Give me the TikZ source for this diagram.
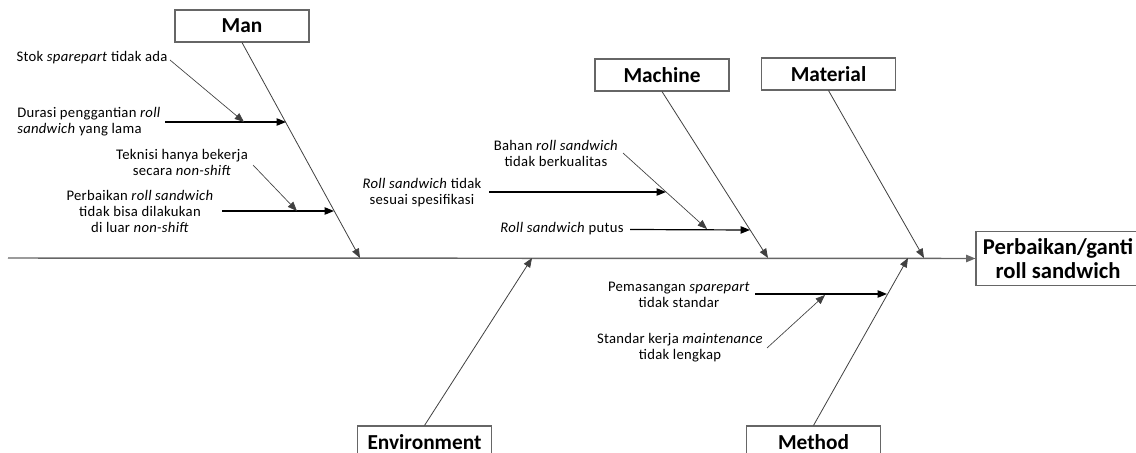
\documentclass[tikz,border=0pt]{standalone}
\usepackage{fontspec}
\setmainfont{Carlito}
\newfontfamily\smallf{Carlito}[LetterSpace=2]
\usetikzlibrary{arrows.meta}
\begin{document}
\begin{tikzpicture}[x=0.75pt,y=-0.75pt,
  cat/.style={draw=black!60, line width=0.8pt, fill=white, minimum width=#1, minimum height=24pt,
    inner sep=0pt, font=\bfseries\fontsize{16}{18}\selectfont},
  txt/.style={inner sep=0pt, align=center, font=\smallf\fontsize{11}{12}\selectfont},
  bone/.style={draw=black!75, line width=0.6pt, -{Triangle[length=7pt,width=5.5pt]}},
  sub/.style={draw=black, line width=0.9pt, -{Triangle[length=7pt,width=5.5pt]}},
  diag/.style={draw=black!75, line width=0.5pt, -{Triangle[length=7pt,width=5.5pt]}},
  spine/.style={draw=black!60, line width=1.1pt, -{Triangle[length=7pt,width=5.5pt]}}
]
\useasboundingbox (0,0) rectangle (1136,453);
\clip (0,0) rectangle (1136,453);

% category boxes
\node[cat=100.5pt] (man) at (242,26) {Man};
\node[cat=100.5pt] (machine) at (662,75) {Machine};
\node[cat=101pt] (material) at (828.5,74) {Material};
\node[cat=101pt] (env) at (424.5,442) {Environment};
\node[cat=100pt] (method) at (813.5,442) {Method};
\node[draw=black!60, line width=0.8pt, fill=white, minimum width=123pt, minimum height=41pt, inner sep=0pt,
  align=center, font=\bfseries\fontsize{17}{18.5}\selectfont] (eff) at (1058,258.5) {Perbaikan/ganti\\roll sandwich};

% spine
\coordinate (tail) at (8,258);
\draw[spine] (tail) -- (eff.west);

% main bones
\coordinate (manT) at (360,258);
\coordinate (machT) at (768,258);
\coordinate (matT) at (924,258);
\coordinate (envT) at (532,258);
\coordinate (methT) at (908,258);
\draw[bone] (man.south) -- (manT);
\draw[bone] (machine.south) -- (machT);
\draw[bone] (material.south) -- (matT);
\draw[bone] (env.north) -- (envT);
\draw[bone] (method.north) -- (methT);

% Man causes
\node[txt] (stok) at (92,58) {Stok \textit{sparepart} tidak ada};
\node[txt, align=left, anchor=west] (durasi) at (17,121.5) {Durasi penggantian \textit{roll}\\\textit{sandwich} yang lama};
\node[txt] (teknisi) at (182,162.5) {Teknisi hanya bekerja\\secara \textit{non-shift}};
\node[txt] (perb) at (140,211) {Perbaikan \textit{roll sandwich}\\tidak bisa dilakukan\\di luar \textit{non-shift}};

\coordinate (durS) at (165,122);
\coordinate (durT) at (286,122);
\coordinate (stokS) at (170,60);
\coordinate (stokT) at (244,122);
\coordinate (perbS) at (222,211);
\coordinate (perbT) at (334,211);
\coordinate (tekS) at (253,165);
\coordinate (tekT) at (297,211);
\draw[sub] (durS) -- (durT);
\draw[diag] (stokS) -- (stokT);
\draw[sub] (perbS) -- (perbT);
\draw[diag] (tekS) -- (tekT);

% Machine causes
\node[txt] (rollts) at (422,192.5) {\textit{Roll sandwich} tidak\\sesuai spesifikasi};
\node[txt] (bahan) at (556,153.5) {Bahan \textit{roll sandwich}\\tidak berkualitas};
\node[txt] (putus) at (562,229) {\textit{Roll sandwich} putus};

\coordinate (putS) at (630,229.5);
\coordinate (putT) at (750,230);
\coordinate (bahS) at (623,153);
\coordinate (bahT) at (707,229);
\coordinate (rtsS) at (489,192);
\coordinate (rtsT) at (666,192);
\draw[sub] (putS) -- (putT);
\draw[diag] (bahS) -- (bahT);
\draw[sub] (rtsS) -- (rtsT);

% Method causes
\node[txt] (pemas) at (679,295) {Pemasangan \textit{sparepart}\\tidak standar};
\node[txt] (standar) at (680,348) {Standar kerja \textit{maintenance}\\tidak lengkap};

\coordinate (pemS) at (755,294);
\coordinate (pemT) at (887,294);
\coordinate (stdS) at (767,348);
\coordinate (stdT) at (825,295);
\draw[sub] (pemS) -- (pemT);
\draw[diag] (stdS) -- (stdT);
\end{tikzpicture}
\end{document}
